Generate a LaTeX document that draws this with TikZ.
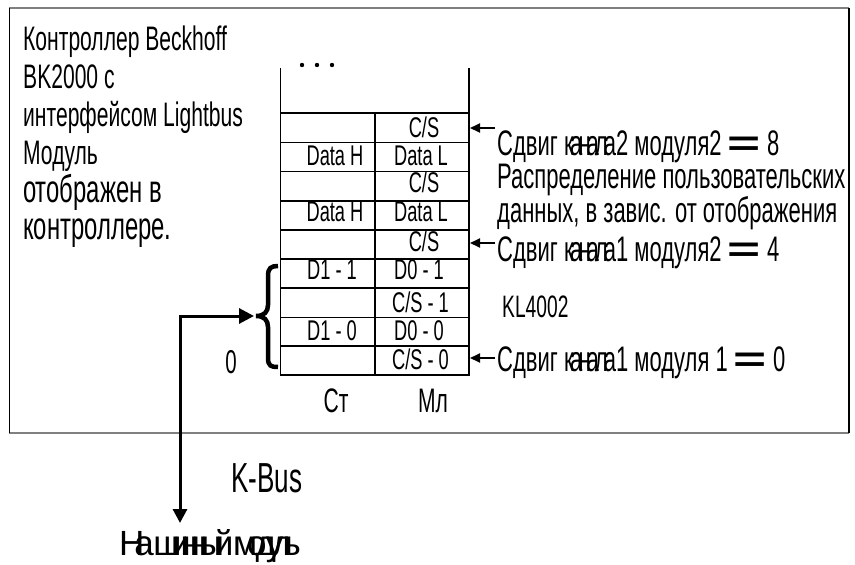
\documentclass[tikz,border=0pt]{standalone}
\usepackage{fontspec}
\usepackage{graphicx}
\IfFontExistsTF{Liberation Sans Narrow}{%
  \setmainfont{Liberation Sans Narrow}%
  \newfontfamily\kanfont[LetterSpace=-12]{Liberation Sans Narrow}%
  \newfontfamily\busfont[LetterSpace=-19]{Liberation Sans Narrow}%
  \def\fMain{0.756}\def\fCell{0.78}}{%
  \setmainfont{Liberation Sans}%
  \newfontfamily\kanfont[LetterSpace=-18]{Liberation Sans}%
  \newfontfamily\busfont[LetterSpace=-29]{Liberation Sans}%
  \def\fMain{0.62}\def\fCell{0.64}}
\newfontfamily\eqfont{Liberation Sans}
\usetikzlibrary{arrows.meta}
\newcommand{\sq}[2]{\scalebox{#1}[1]{#2}}
\newcommand{\bigeq}{{\eqfont\bfseries\scalebox{1.6}[1]{=}}}
\begin{document}
\begin{tikzpicture}[x=1pt,y=-1pt,
  cell/.style={anchor=base,inner sep=0pt,font=\fontsize{28.5}{28.5}\selectfont},
  lbl/.style={anchor=base west,inner sep=0pt,font=\fontsize{35.5}{35.5}\selectfont},
  ctl/.style={anchor=base west,inner sep=0pt,font=\fontsize{34}{34}\selectfont},
  ctlbig/.style={anchor=base west,inner sep=0pt,font=\fontsize{38.5}{38.5}\selectfont},
  grid/.style={line width=1.3pt},
  ptr/.style={-{Triangle[length=10pt,width=9pt]},line width=2pt},
  bus/.style={{Triangle[length=14pt,width=14pt]}-{Triangle[length=15pt,width=15pt]},line width=3pt},
  frameg/.style={line width=2pt,draw=black!50},
  frameb/.style={line width=1.6pt,draw=black}]
\useasboundingbox (0,0) rectangle (855,565);
% frame
\draw[frameg] (9,8) -- (849,8);
\draw[frameg] (9,433) -- (849,433);
\draw[frameb] (9.5,8) -- (9.5,433);
\draw[frameb] (849,8) -- (849,433);
% left text
\node[ctl] (l1) at (23,50) {\sq{\fMain}{Контроллер Beckhoff}};
\node[ctl] (l2) at (23,88) {\sq{\fMain}{BK2000 с}};
\node[ctl] (l3) at (23,126) {\sq{\fMain}{интерфейсом Lightbus}};
\node[ctl] (l4) at (23,164) {\sq{\fMain}{Модуль}};
\node[ctlbig] (l5) at (23,202) {\sq{\fMain}{отображен  в}};
\node[ctlbig] (l6) at (23,239) {\sq{\fMain}{контроллере.}};
% table
\draw[grid] (280.5,68) -- (280.5,375) -- (469,375) -- (469,68);
\draw[grid] (375,113) -- (375,375);
\foreach \yy in {113,142.5,171.5,201,230,259,288,317.5,346}
  \draw[grid] (280.5,\yy) -- (469,\yy);
\foreach \xx in {302,317,332} \fill (\xx,65) circle (2.2pt);
% cells
\node[cell] (r1) at (424,137) {\sq{\fCell}{C/S}};
\node[cell] (h2) at (335,165) {\sq{\fCell}{Data H}};
\node[cell] (r2) at (421,165) {\sq{\fCell}{Data L}};
\node[cell] (r3) at (424,192) {\sq{\fCell}{C/S}};
\node[cell] (h4) at (335,221) {\sq{\fCell}{Data H}};
\node[cell] (r4) at (421,221) {\sq{\fCell}{Data L}};
\node[cell] (r5) at (424,251) {\sq{\fCell}{C/S}};
\node[cell] (h6) at (332,279) {\sq{\fCell}{D1 - 1}};
\node[cell] (r6) at (419,279) {\sq{\fCell}{D0 - 1}};
\node[cell] (r7) at (420.5,312) {\sq{\fCell}{C/S - 1}};
\node[cell] (h8) at (332,340) {\sq{\fCell}{D1 - 0}};
\node[cell] (r8) at (419,340) {\sq{\fCell}{D0 - 0}};
\node[cell] (r9) at (420.5,369) {\sq{\fCell}{C/S - 0}};
% column labels
\node[anchor=base,inner sep=0pt,font=\fontsize{34}{34}\selectfont] (st) at (336,412) {\sq{\fMain}{Ст}};
\node[anchor=base,inner sep=0pt,font=\fontsize{34}{34}\selectfont] (ml) at (433,412) {\sq{\fMain}{Мл}};
\node[anchor=base,inner sep=0pt,font=\fontsize{33}{33}\selectfont] (zero) at (231,373) {\sq{\fMain}{0}};
% right labels
\node[lbl] (s1) at (497,155) {\sq{\fMain}{Сдвиг {\kanfont канала}2 модуля2 }\bigeq\sq{\fMain}{ 8}};
\node[lbl] (p1) at (497,188) {\sq{\fMain}{Распределение пользовательских}};
\node[lbl] (p2) at (497,222) {\sq{\fMain}{данных, в завис. от отображения}};
\node[lbl] (s2) at (497,261) {\sq{\fMain}{Сдвиг {\kanfont канала}1 модуля2 }\bigeq\sq{\fMain}{ 4}};
\node[anchor=base west,inner sep=0pt,font=\fontsize{31}{31}\selectfont] (kl) at (502,317) {\sq{\fMain}{KL4002}};
\node[lbl] (s3) at (497,371) {\sq{\fMain}{Сдвиг {\kanfont канала}1 модуля 1 }\bigeq\sq{\fMain}{ 0}};
% pointer arrows
\coordinate (a1) at (495,128);
\coordinate (a2) at (495,243);
\coordinate (a3) at (495,358);
\coordinate (e1) at (470,128);
\coordinate (e2) at (470,243);
\coordinate (e3) at (470,358);
\draw[ptr] (a1) -- (e1);
\draw[ptr] (a2) -- (e2);
\draw[ptr] (a3) -- (e3);
% brace
\draw[line width=4.5pt,line cap=butt] (278,266) .. controls (271,266) and (268,268) .. (268,276) -- (268,305)
  .. controls (268,312) and (264,316) .. (256,316)
  .. controls (264,316) and (268,320) .. (268,327) -- (268,358)
  .. controls (268,366) and (271,367) .. (278,367);
\coordinate (bt) at (254,316);
% K-Bus
\node[anchor=base,inner sep=0pt,font=\fontsize{42}{42}\selectfont] (kbus) at (267,492) {\sq{\fMain}{K-Bus}};
\node[anchor=base,inner sep=0pt,font=\busfont\fontsize{35}{35}\selectfont] (target) at (210,555) {На шинный модуль};
\coordinate (busin) at (180,523);
\draw[bus] (busin) |- (bt);
\end{tikzpicture}
\end{document}
